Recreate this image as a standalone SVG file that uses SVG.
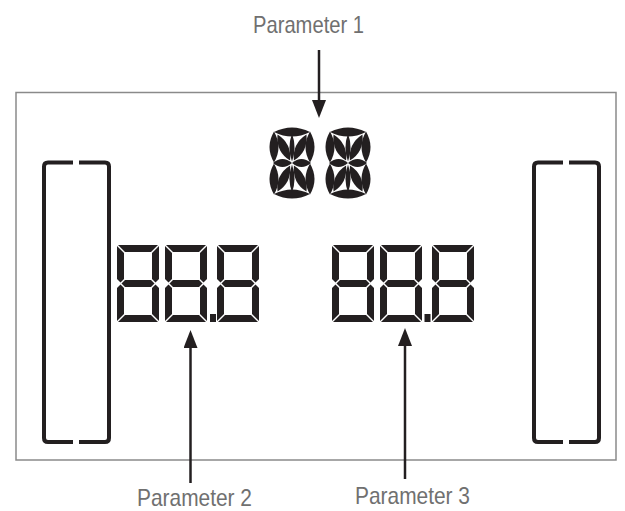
<svg xmlns="http://www.w3.org/2000/svg" xmlns:xlink="http://www.w3.org/1999/xlink" width="625" height="511" viewBox="0 0 625 511">
<style>
.seg{fill:#231f20;}
.frame{fill:#fff;stroke:#8a8a8a;stroke-width:1.5;}
.brk{fill:none;stroke:#231f20;stroke-width:4;stroke-linecap:butt;}
.lbl{font-family:"Liberation Sans",Arial,sans-serif;font-size:24px;fill:#707070;}
.arr{stroke:#231f20;stroke-width:2.5;fill:none;}
</style>
<defs>
<marker id="head" markerUnits="userSpaceOnUse" markerWidth="18" markerHeight="14" refX="12" refY="7" orient="auto">
<path d="M0,0 L18,7 L0,14 Z" fill="#231f20"/>
</marker>
<path id="lens" d="M0,-0.5 Q1,0 0,0.5 Q-1,0 0,-0.5 Z"/>
<g id="d7" class="seg">
<polygon points="1,0 41,0 34,7 8,7"/>
<polygon points="42,1 35,8 35,34 38.5,37.5 42,34"/>
<polygon points="42,43 38.5,39.5 35,43 35,69 42,76"/>
<polygon points="8,70 34,70 41,77 1,77"/>
<polygon points="0,43 3.5,39.5 7,43 7,69 0,76"/>
<polygon points="0,1 7,8 7,34 3.5,37.5 0,34"/>
<polygon points="4.5,38.5 8,35 34,35 37.5,38.5 34,42 8,42"/>
</g>
<g id="d14" class="seg">
<use xlink:href="#lens" transform="translate(22,4) rotate(90) scale(9,36)"/>
<use xlink:href="#lens" transform="translate(22,66) rotate(90) scale(9,36)"/>
<use xlink:href="#lens" transform="translate(4,19) scale(9,31)"/>
<use xlink:href="#lens" transform="translate(4,51) scale(9,31)"/>
<use xlink:href="#lens" transform="translate(40,19) scale(9,31)"/>
<use xlink:href="#lens" transform="translate(40,51) scale(9,31)"/>
<use xlink:href="#lens" transform="translate(12.5,35) rotate(90) scale(8,19)"/>
<use xlink:href="#lens" transform="translate(31.5,35) rotate(90) scale(8,19)"/>
<use xlink:href="#lens" transform="translate(22,19.5) scale(5,28)"/>
<use xlink:href="#lens" transform="translate(22,50.5) scale(5,28)"/>
<use xlink:href="#lens" transform="translate(13.8,19.5) rotate(-25.6) scale(9,29)"/>
<use xlink:href="#lens" transform="translate(30.2,19.5) rotate(25.6) scale(9,29)"/>
<use xlink:href="#lens" transform="translate(13.8,50.5) rotate(25.6) scale(9,29)"/>
<use xlink:href="#lens" transform="translate(30.2,50.5) rotate(-25.6) scale(9,29)"/>
</g>
</defs>
<rect width="625" height="511" fill="#fff"/>
<g id="panel">
<rect class="frame" x="16" y="92.5" width="600" height="367.5"/>
</g>
<g id="bracket-left">
<path class="brk" d="M73,162.5 H48 Q44,162.5 44,166.5 V438 Q44,442 48,442 H73"/>
<path class="brk" d="M79,162.5 H105 Q109,162.5 109,166.5 V438 Q109,442 105,442 H79"/>
</g>
<g id="bracket-right">
<path class="brk" d="M563,162.5 H538 Q534,162.5 534,166.5 V438 Q534,442 538,442 H563"/>
<path class="brk" d="M569,162.5 H595 Q599,162.5 599,166.5 V438 Q599,442 595,442 H569"/>
</g>
<g id="alnum">
<use xlink:href="#d14" transform="translate(270,128)"/>
<use xlink:href="#d14" transform="translate(326,128)"/>
</g>
<g id="display-left" transform="translate(117,245)">
<use xlink:href="#d7"/>
<use xlink:href="#d7" x="48"/>
<use xlink:href="#d7" x="100"/>
<rect class="seg" x="93" y="69" width="6" height="8"/>
</g>
<g id="display-right" transform="translate(332,245)">
<use xlink:href="#d7"/>
<use xlink:href="#d7" x="48"/>
<use xlink:href="#d7" x="100"/>
<rect class="seg" x="92.5" y="69" width="6" height="8"/>
</g>
<g id="connectors">
<line class="arr" x1="319" y1="50" x2="319" y2="112" marker-end="url(#head)"/>
<line class="arr" x1="190.5" y1="483" x2="190.5" y2="336" marker-end="url(#head)"/>
<line class="arr" x1="405" y1="479" x2="405" y2="334" marker-end="url(#head)"/>
</g>
<g id="label-1"><text class="lbl" x="253" y="33" textLength="111" lengthAdjust="spacingAndGlyphs">Parameter 1</text></g>
<g id="label-2"><text class="lbl" x="137" y="506" textLength="115" lengthAdjust="spacingAndGlyphs">Parameter 2</text></g>
<g id="label-3"><text class="lbl" x="355" y="504" textLength="115" lengthAdjust="spacingAndGlyphs">Parameter 3</text></g>
</svg>
